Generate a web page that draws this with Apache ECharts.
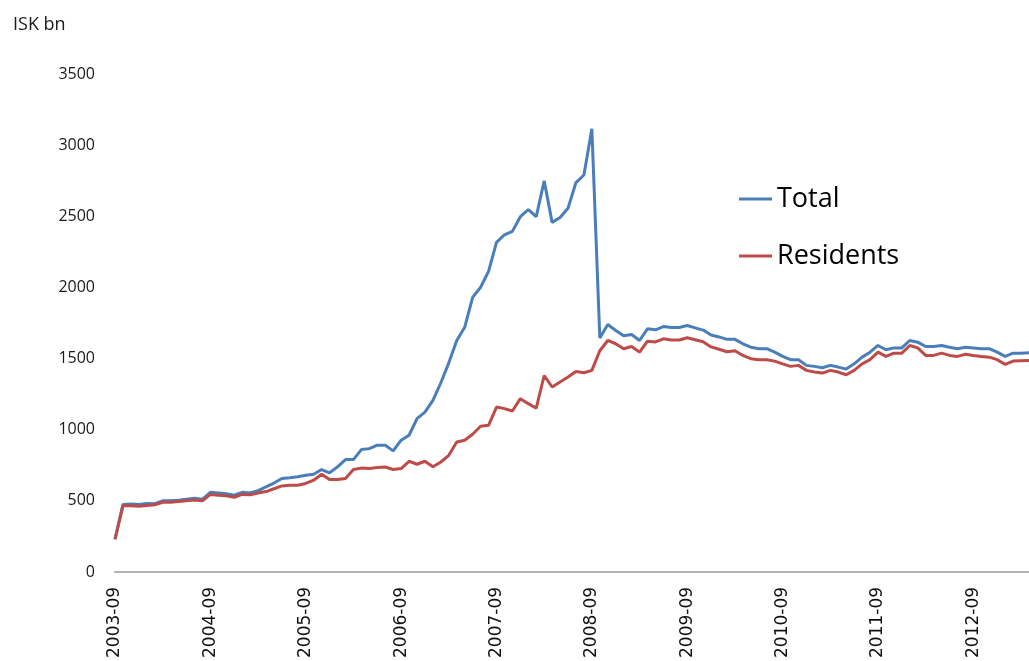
<!DOCTYPE html>
<html>
<head>
<meta charset="utf-8">
<script src="https://cdn.jsdelivr.net/npm/echarts@6/dist/echarts.min.js"></script>
<style>
html,body{margin:0;padding:0;background:#fff;}
#chart{width:1029px;height:661px;}
</style>
</head>
<body>
<div id="chart"></div>
<script>
const months = [
 "2003-09","2003-10","2003-11","2003-12",
 "2004-01","2004-02","2004-03","2004-04","2004-05","2004-06","2004-07","2004-08","2004-09","2004-10","2004-11","2004-12",
 "2005-01","2005-02","2005-03","2005-04","2005-05","2005-06","2005-07","2005-08","2005-09","2005-10","2005-11","2005-12",
 "2006-01","2006-02","2006-03","2006-04","2006-05","2006-06","2006-07","2006-08","2006-09","2006-10","2006-11","2006-12",
 "2007-01","2007-02","2007-03","2007-04","2007-05","2007-06","2007-07","2007-08","2007-09","2007-10","2007-11","2007-12",
 "2008-01","2008-02","2008-03","2008-04","2008-05","2008-06","2008-07","2008-08","2008-09","2008-10","2008-11","2008-12",
 "2009-01","2009-02","2009-03","2009-04","2009-05","2009-06","2009-07","2009-08","2009-09","2009-10","2009-11","2009-12",
 "2010-01","2010-02","2010-03","2010-04","2010-05","2010-06","2010-07","2010-08","2010-09","2010-10","2010-11","2010-12",
 "2011-01","2011-02","2011-03","2011-04","2011-05","2011-06","2011-07","2011-08","2011-09","2011-10","2011-11","2011-12",
 "2012-01","2012-02","2012-03","2012-04","2012-05","2012-06","2012-07","2012-08","2012-09","2012-10","2012-11","2012-12",
 "2013-01","2013-02","2013-03","2013-04"
];

const total = [
 230,475,478,475,
 482,480,500,500,505,512,518,512,560,555,550,540,
 560,555,572,598,625,657,662,669,680,687,720,697,
 739,790,790,860,867,891,891,851,926,961,1078,1124,
 1206,1330,1470,1627,1720,1930,2001,2113,2317,2370,2394,2497,
 2546,2497,2749,2457,2492,2557,2737,2790,3115,1645,1739,1697,
 1660,1669,1627,1709,1702,1725,1718,1718,1732,1716,1700,1665,
 1652,1635,1635,1604,1580,1569,1569,1545,1515,1492,1492,1452,
 1445,1435,1452,1440,1426,1463,1510,1545,1592,1562,1575,1575,
 1627,1615,1585,1585,1592,1580,1569,1580,1575,1569,1569,1545,
 1515,1538,1538,1540
];

const residents = [
 230,465,465,462,
 468,472,490,490,495,500,505,500,545,540,535,525,
 545,542,555,565,585,605,610,610,622,645,687,650,
 650,657,720,730,727,734,738,720,727,778,757,778,
 740,773,820,914,926,968,1024,1031,1159,1148,1131,1218,
 1183,1152,1381,1300,1335,1370,1409,1400,1417,1555,1627,1604,
 1569,1585,1545,1622,1617,1639,1630,1630,1646,1632,1618,1582,
 1565,1548,1555,1522,1499,1492,1492,1482,1463,1445,1452,1417,
 1405,1398,1417,1405,1386,1417,1463,1492,1545,1515,1538,1538,
 1592,1575,1522,1522,1538,1522,1515,1530,1522,1515,1510,1492,
 1459,1482,1485,1487
];

const seriesNames = ["Total", "Residents"];
const unitLabel = "ISK bn";

const chart = echarts.init(document.getElementById('chart'), null, {renderer: 'canvas'});
chart.setOption({
  backgroundColor: '#ffffff',
  animation: false,
  title: {
    text: unitLabel,
    left: 8, top: 11,
    textStyle: {fontFamily: 'Open Sans', fontSize: 18, fontWeight: 'normal', color: '#1a1a1a'}
  },
  legend: {
    data: seriesNames,
    orient: 'vertical',
    left: 734, top: 180,
    itemWidth: 33, itemHeight: 3,
    itemGap: 29,
    icon: 'rect',
    textStyle: {fontFamily: 'Open Sans', fontSize: 27, color: '#000', lineHeight: 28}
  },
  grid: {left: 115, right: -3, top: 74, bottom: 89, containLabel: false},
  xAxis: {
    type: 'category',
    data: months,
    boundaryGap: false,
    axisLine: {show: true, lineStyle: {color: '#b3b3b3', width: 2}},
    axisTick: {show: false},
    axisLabel: {
      interval: 11,
      rotate: 90,
      margin: 15,
      fontFamily: 'DejaVu Sans',
      fontSize: 17,
      color: '#111'
    },
    splitLine: {show: false}
  },
  yAxis: {
    type: 'value',
    min: 0, max: 3500, interval: 500,
    axisLine: {show: false},
    axisTick: {show: false},
    splitLine: {show: false},
    axisLabel: {
      margin: 20,
      fontFamily: 'Open Sans',
      fontSize: 16,
      color: '#1a1a1a',
      formatter: function (v) { return String(v); }
    }
  },
  series: [
    {
      name: seriesNames[0], type: 'line', data: total,
      symbol: 'none', smooth: false,
      lineStyle: {color: '#4a7ebb', width: 3},
      itemStyle: {color: '#4a7ebb'}
    },
    {
      name: seriesNames[1], type: 'line', data: residents,
      symbol: 'none', smooth: false,
      lineStyle: {color: '#be4b48', width: 3},
      itemStyle: {color: '#be4b48'}
    }
  ]
});
</script>
</body>
</html>
